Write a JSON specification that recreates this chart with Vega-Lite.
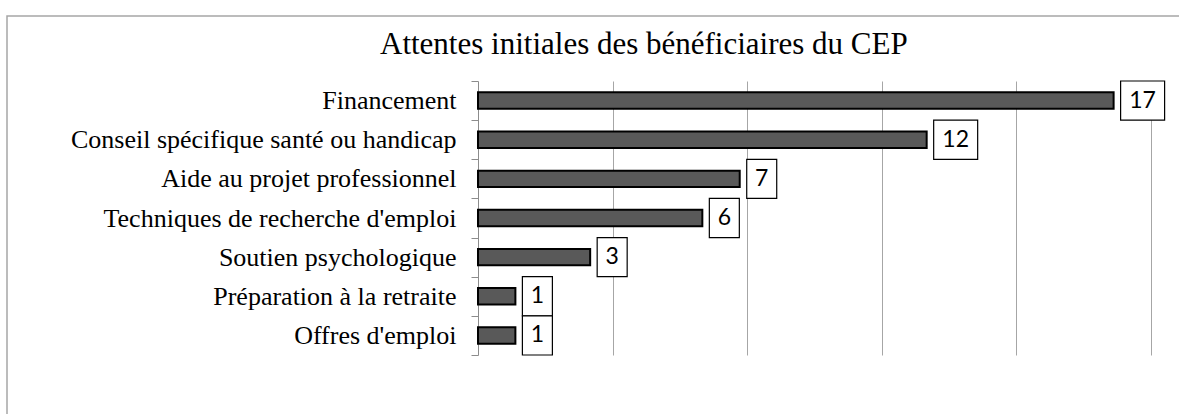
{
  "$schema": "https://vega.github.io/schema/vega-lite/v6.json",
  "width": 1176,
  "height": 404,
  "autosize": {"type": "none"},
  "padding": {"left": 7, "top": 16, "right": 0, "bottom": 0},
  "background": "white",
  "title": {
    "text": "Attentes initiales des bénéficiaires du CEP",
    "font": "Liberation Serif",
    "fontSize": 31,
    "fontWeight": "normal",
    "color": "black",
    "anchor": "start",
    "frame": "group",
    "orient": "top",
    "baseline": "alphabetic",
    "dx": 373,
    "dy": 44,
    "offset": -38
  },
  "data": {
    "values": [
      {"cat": "Financement", "value": 17},
      {"cat": "Conseil spécifique santé ou handicap", "value": 12},
      {"cat": "Aide au projet professionnel", "value": 7},
      {"cat": "Techniques de recherche d'emploi", "value": 6},
      {"cat": "Soutien psychologique\u00a0", "value": 3},
      {"cat": "Préparation à la retraite", "value": 1},
      {"cat": "Offres d'emploi", "value": 1}
    ]
  },
  "encoding": {
    "y": {
      "field": "cat",
      "type": "nominal",
      "sort": null,
      "scale": {"type": "band", "range": [65, 339], "paddingInner": 0, "paddingOuter": 0},
      "axis": {
        "title": null,
        "offset": -471,
        "labelFont": "Liberation Serif",
        "labelFontSize": 26,
        "labelColor": "black",
        "labelPadding": 15,
        "labelLimit": 0,
        "tickBand": "extent",
        "tickSize": 7,
        "tickColor": "#8c8c8c",
        "domainColor": "#8c8c8c",
        "domainWidth": 1,
        "grid": false
      }
    },
    "x": {
      "field": "value",
      "type": "quantitative",
      "scale": {"domain": [0, 18], "range": [471, 1144], "nice": false, "zero": true},
      "axis": {
        "values": [3.6, 7.2, 10.8, 14.4, 18],
        "grid": true,
        "gridColor": "#a6a6a6",
        "gridWidth": 1,
        "labels": false,
        "ticks": false,
        "domain": false,
        "title": null
      }
    }
  },
  "layer": [
    {
      "mark": {"type": "bar", "fill": "#595959", "stroke": "black", "strokeWidth": 2, "height": {"band": 0.42}}
    },
    {
      "transform": [{"filter": "datum.value >= 10"}],
      "mark": {"type": "rect", "fill": "white", "stroke": "black", "strokeWidth": 1.2, "xOffset": 7, "x2Offset": 51},
      "encoding": {"x2": {"field": "value"}}
    },
    {
      "transform": [{"filter": "datum.value < 10"}],
      "mark": {"type": "rect", "fill": "white", "stroke": "black", "strokeWidth": 1.2, "xOffset": 7, "x2Offset": 37},
      "encoding": {"x2": {"field": "value"}}
    },
    {
      "transform": [{"filter": "datum.value >= 10"}],
      "mark": {"type": "text", "font": "Lato", "fontSize": 23, "color": "black", "align": "center", "baseline": "middle", "dx": 29},
      "encoding": {"text": {"field": "value", "type": "quantitative"}}
    },
    {
      "transform": [{"filter": "datum.value < 10"}],
      "mark": {"type": "text", "font": "Lato", "fontSize": 23, "color": "black", "align": "center", "baseline": "middle", "dx": 22},
      "encoding": {"text": {"field": "value", "type": "quantitative"}}
    }
  ],
  "config": {
    "view": {"stroke": "#a6a6a6", "strokeWidth": 1.5, "fill": "white"}
  }
}
